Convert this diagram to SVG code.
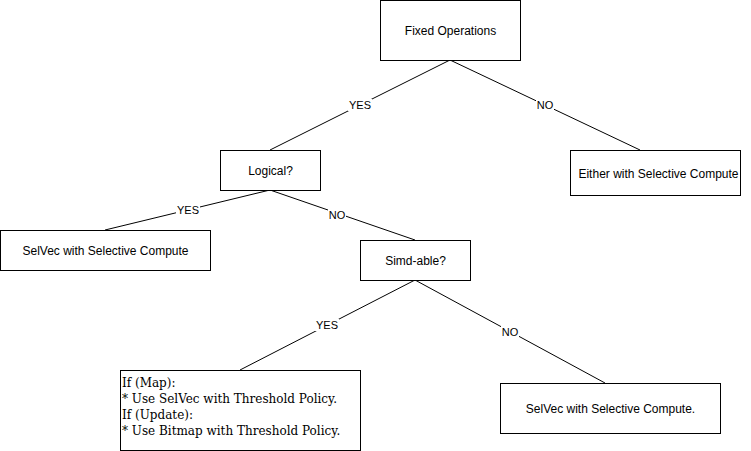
<svg xmlns="http://www.w3.org/2000/svg" width="751" height="451" viewBox="0 0 751 451">
<style>
.box{fill:#fff;stroke:#000;stroke-width:1}
.t{font-family:"Liberation Sans",Arial,sans-serif;font-size:12px;fill:#000;text-anchor:middle;dominant-baseline:central}
.s{font-family:"DejaVu Serif","Liberation Serif",serif;font-size:12px;fill:#000}
.edge{stroke:#000;stroke-width:1;fill:none}
.lb{fill:#fff}
.lt{font-family:"Liberation Sans",Arial,sans-serif;font-size:11px;fill:#000;text-anchor:middle;dominant-baseline:central}
</style>
<rect width="751" height="451" fill="#fff"/>
<g id="connectors">
<line class="edge" x1="450" y1="60" x2="270" y2="150"/>
<line class="edge" x1="450" y1="60" x2="640" y2="150"/>
<line class="edge" x1="270" y1="190" x2="105" y2="230"/>
<line class="edge" x1="270" y1="190" x2="415" y2="240"/>
<line class="edge" x1="415" y1="280" x2="240" y2="370"/>
<line class="edge" x1="415" y1="280" x2="605" y2="383"/>
<rect class="lb" x="348" y="99" width="24" height="12"/><text class="lt" x="360" y="105">YES</text>
<rect class="lb" x="536" y="99" width="18" height="12"/><text class="lt" x="545" y="105">NO</text>
<rect class="lb" x="176" y="204" width="24" height="12"/><text class="lt" x="188" y="210">YES</text>
<rect class="lb" x="328" y="209" width="18" height="12"/><text class="lt" x="337" y="215">NO</text>
<rect class="lb" x="315" y="319" width="24" height="12"/><text class="lt" x="327" y="325">YES</text>
<rect class="lb" x="501" y="326" width="18" height="12"/><text class="lt" x="510" y="332">NO</text>
</g>
<g id="fixed-operations"><rect class="box" x="380.5" y="0.5" width="140" height="60"/><text class="t" x="450.5" y="31">Fixed Operations</text></g>
<g id="logical"><rect class="box" x="220.5" y="150.5" width="100" height="40"/><text class="t" x="270.5" y="171">Logical?</text></g>
<g id="either"><rect class="box" x="570.5" y="150.5" width="170" height="45"/><text class="t" x="658.5" y="174">Either with Selective Compute</text></g>
<g id="selvec"><rect class="box" x="0.5" y="230.5" width="210" height="40"/><text class="t" x="105.5" y="251">SelVec with Selective Compute</text></g>
<g id="simd"><rect class="box" x="360.5" y="240.5" width="110" height="40"/><text class="t" x="415.5" y="261">Simd-able?</text></g>
<g id="map-update"><rect class="box" x="120.5" y="370.5" width="240" height="80"/>
<text class="s" x="122" y="387">If (Map):</text>
<text class="s" x="122" y="403">* Use SelVec with Threshold Policy.</text>
<text class="s" x="122" y="419">If (Update):</text>
<text class="s" x="122" y="435">* Use Bitmap with Threshold Policy.</text>
</g>
<g id="selvec2"><rect class="box" x="500.5" y="383.5" width="220" height="50"/><text class="t" x="610.5" y="409">SelVec with Selective Compute.</text></g>
</svg>
